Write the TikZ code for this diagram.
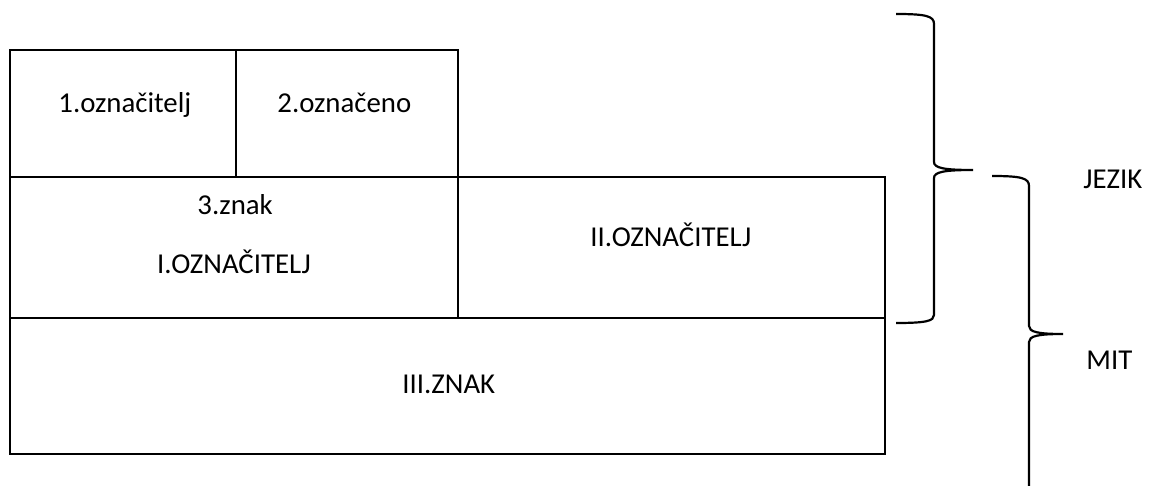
\documentclass[tikz,border=0pt]{standalone}
\usepackage{fontspec}
\setmainfont{Carlito}
\begin{document}
\begin{tikzpicture}[x=0.5pt,y=-0.5pt,
  box/.style={draw=black,line width=1pt},
  lbl/.style={inner sep=0pt,anchor=base west,font=\fontsize{14.4}{17}\selectfont},
  brace/.style={draw=black,line width=1.1pt}]
\useasboundingbox (0,0) rectangle (1150,486);
% boxes
\draw[box] (10,50) rectangle (236,177);
\draw[box] (236,50) rectangle (458,177);
\draw[box] (10,177) rectangle (458,318);
\draw[box] (458,177) rectangle (885,318);
\draw[box] (10,318) rectangle (885,454);
% labels
\node[lbl] (a) at (58,113) {1.označitelj};
\node[lbl] (b) at (277,113) {2.označeno};
\node[lbl] (c) at (197,215) {3.znak};
\node[lbl,anchor=base] (d) at (234,273) {I.OZNAČITELJ};
\node[lbl] (e) at (590,247) {II.OZNAČITELJ};
\node[lbl] (f) at (402,393) {III.ZNAK};
\node[lbl] (g) at (1083,189) {JEZIK};
\node[lbl] (h) at (1086,369) {MIT};
% brace 1
\draw[brace] (896,14) .. controls (926,14) and (934,16) .. (934,24) -- (934,162)
  .. controls (934,168) and (944,170) .. (973,170)
  .. controls (944,170) and (934,172) .. (934,178) -- (934,315)
  .. controls (934,321) and (926,323) .. (896,323);
% brace 2
\draw[brace] (992,176) .. controls (1021,176) and (1029,178) .. (1029,186) -- (1029,326)
  .. controls (1029,332) and (1038,334) .. (1063,334)
  .. controls (1038,334) and (1029,336) .. (1029,342) -- (1029,492);
\end{tikzpicture}
\end{document}
